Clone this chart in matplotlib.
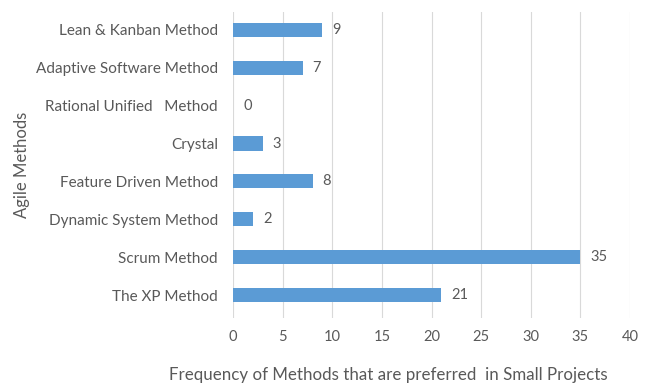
import matplotlib.pyplot as plt

methods = ["The XP Method", "Scrum Method", "Dynamic System Method",
           "Feature Driven Method", "Crystal", "Rational Unified   Method",
           "Adaptive Software Method", "Lean & Kanban Method"]
counts = [21, 35, 2, 8, 3, 0, 7, 9]
xticks = [0, 5, 10, 15, 20, 25, 30, 35, 40]

plt.rcParams['font.family'] = ['Lato', 'DejaVu Sans']
grey = '#595959'

fig = plt.figure(figsize=(6.46, 3.84), dpi=100)
ax = fig.add_axes([0.361, 0.172, 0.614, 0.797])

pos = list(range(len(methods)))
ax.barh(pos, counts, height=0.37, color='#5B9BD5', zorder=3)
for p, c in zip(pos, counts):
    ax.text(c + 1.0, p, str(c), va='center', ha='left', fontsize=10.5, color=grey)

ax.set_xlim(0, 40)
ax.set_ylim(-0.6, 7.47)
ax.set_xticks(xticks)
ax.set_yticks(pos)
ax.set_yticklabels(methods)
ax.tick_params(axis='both', length=0, labelsize=11, labelcolor=grey)
ax.tick_params(axis='x', labelsize=10.5, pad=9)
ax.tick_params(axis='y', pad=11)
ax.grid(axis='x', color='#D9D9D9', linewidth=0.8, zorder=0)
for s in ax.spines.values():
    s.set_visible(False)

fig.text(22 / 646, 1 - 165 / 384, "Agile Methods", rotation=90,
         ha='center', va='center', fontsize=12, color=grey)
fig.text(388 / 646, 0.002, "Frequency of Methods that are preferred  in Small Projects",
         ha='center', va='bottom', fontsize=12.2, color=grey)

fig.savefig('out.png', dpi=100)
